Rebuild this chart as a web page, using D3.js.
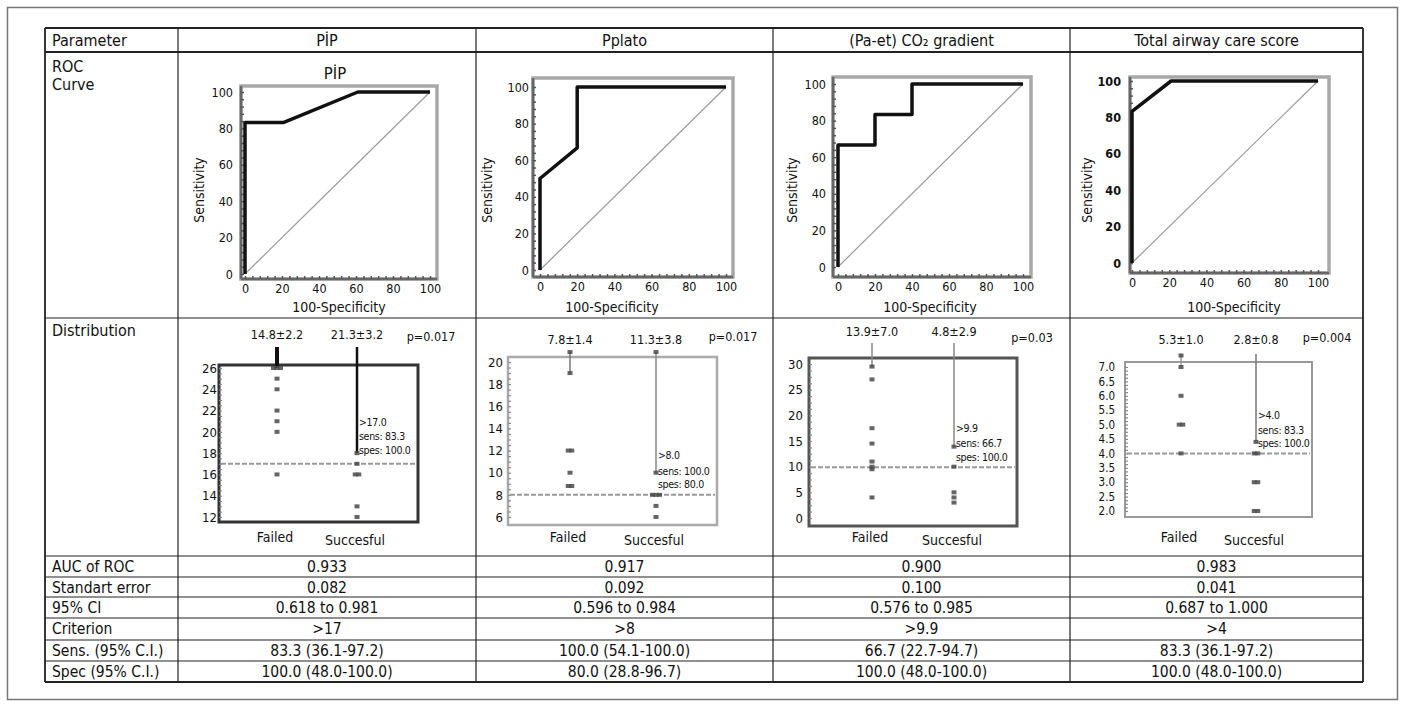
<!DOCTYPE html>
<html>
<head>
<meta charset="utf-8">
<script src="https://cdn.jsdelivr.net/npm/d3@7"></script>
<style>
  body { margin: 0; background: #fff; }
  text { font-family: 'DejaVu Sans Condensed', 'DejaVu Sans', sans-serif; fill: #111; }
  .domain { display: none; }
</style>
</head>
<body>
<svg id="chart" width="1405" height="704"></svg>
<script>
// ---------- table text ----------
const parameters = ["PİP", "Pplato", "(Pa-et) CO₂ gradient", "Total airway care score"];
const rowLabels = ["AUC of ROC", "Standart error", "95% CI", "Criterion", "Sens. (95% C.I.)", "Spec (95% C.I.)"];
const aucValues = ["0.933", "0.917", "0.900", "0.983"];
const stdErrors = ["0.082", "0.092", "0.100", "0.041"];
const ciValues = ["0.618 to 0.981", "0.596 to 0.984", "0.576 to 0.985", "0.687 to 1.000"];
const criteria = [">17", ">8", ">9.9", ">4"];
const sensValues = ["83.3 (36.1-97.2)", "100.0 (54.1-100.0)", "66.7 (22.7-94.7)", "83.3 (36.1-97.2)"];
const specValues = ["100.0 (48.0-100.0)", "80.0 (28.8-96.7)", "100.0 (48.0-100.0)", "100.0 (48.0-100.0)"];

// ---------- ROC curves: [100-specificity, sensitivity] ----------
const rocPip = [[0, 0], [0, 83.3], [21, 83.3], [61, 100], [100, 100]];
const rocPplato = [[0, 0], [0, 50], [20, 66.7], [20, 100], [100, 100]];
const rocCo2 = [[0, 0], [0, 66.7], [20, 66.7], [20, 83.3], [40, 83.3], [40, 100], [100, 100]];
const rocAirway = [[0, 0], [0, 83.3], [21, 100], [100, 100]];
const rocTicks = [0, 20, 40, 60, 80, 100];

// ---------- dot diagrams ----------
const failedPip = [26, 26, 26, 25, 24, 22, 21, 20, 16];
const succPip = [18, 17, 16, 16, 13, 12];
const failedPplato = [20.9, 19, 12, 12, 10, 8.8, 8.8];
const succPplato = [20.9, 10, 8, 8, 8, 7, 6];
const failedCo2 = [29.5, 27, 17.5, 14.5, 11, 10, 9.5, 4];
const succCo2 = [13.9, 10, 5, 4, 3];
const failedAirway = [7.4, 7.0, 6.0, 5.0, 5.0, 4.0];
const succAirway = [4.4, 4.0, 4.0, 3.0, 3.0, 2.0, 2.0];

const distTicksPip = [12, 14, 16, 18, 20, 22, 24, 26];
const distTicksPplato = [6, 8, 10, 12, 14, 16, 18, 20];
const distTicksCo2 = [0, 5, 10, 15, 20, 25, 30];
const distTicksAirway = [2.0, 2.5, 3.0, 3.5, 4.0, 4.5, 5.0, 5.5, 6.0, 6.5, 7.0];

const groupStats = [["14.8±2.2", "21.3±3.2"], ["7.8±1.4", "11.3±3.8"], ["13.9±7.0", "4.8±2.9"], ["5.3±1.0", "2.8±0.8"]];
const pValues = ["p=0.017", "p=0.017", "p=0.03", "p=0.004"];
const cutoffs = [17, 8, 9.9, 4];
const cutoffNotes = [[">17.0", "sens: 83.3", "spes: 100.0"], [">8.0", "sens: 100.0", "spes: 80.0"],
                     [">9.9", "sens: 66.7", "spes: 100.0"], [">4.0", "sens: 83.3", "spes: 100.0"]];
const pointerFailed = [26, 19, 29.5, 7.0];
const pointerSucc = [18, 10, 13.9, 4.4];
const groupNames = ["Failed", "Succesful"];

const FONT = "'DejaVu Sans Condensed','DejaVu Sans',sans-serif";
const svg = d3.select("#chart");

// outer frame
svg.append("rect").attr("x", 7.5).attr("y", 7.5).attr("width", 1390).attr("height", 692)
  .attr("fill", "none").attr("stroke", "#777").attr("stroke-width", 1.5);

// ---------- table grid ----------
const colX = [45, 178, 476, 773, 1070, 1363];
const rowY = [28, 52, 318, 556, 577, 597, 618, 640, 661, 682];
const grid = svg.append("g");
rowY.forEach((y, i) => {
  grid.append("line").attr("x1", colX[0]).attr("x2", colX[5]).attr("y1", y).attr("y2", y)
    .attr("stroke", "#222").attr("stroke-width", (i === 0 || i === 1 || i === rowY.length - 1) ? 1.8 : 1.2);
});
colX.forEach((x, i) => {
  grid.append("line").attr("x1", x).attr("x2", x).attr("y1", rowY[0]).attr("y2", rowY[rowY.length - 1])
    .attr("stroke", "#222").attr("stroke-width", (i === 0 || i === 5) ? 1.8 : 1.2);
});

const colMid = i => (colX[i + 1] + colX[i + 2]) / 2;

// header row
svg.append("text").attr("x", 52).attr("y", 46).attr("font-size", 16).text("Parameter");
parameters.forEach((p, i) => {
  svg.append("text").attr("x", colMid(i)).attr("y", 46).attr("font-size", 16)
    .attr("text-anchor", "middle").text(p);
});
svg.append("text").attr("x", 52).attr("y", 72).attr("font-size", 16).text("ROC");
svg.append("text").attr("x", 52).attr("y", 90).attr("font-size", 16).text("Curve");
svg.append("text").attr("x", 52).attr("y", 336).attr("font-size", 16).text("Distribution");

// bottom rows
const bottomRows = [aucValues, stdErrors, ciValues, criteria, sensValues, specValues];
bottomRows.forEach((vals, r) => {
  const yb = rowY[3 + r] + 16;
  svg.append("text").attr("x", 52).attr("y", yb).attr("font-size", 15.5).text(rowLabels[r]);
  vals.forEach((v, i) => {
    svg.append("text").attr("x", colMid(i)).attr("y", yb).attr("font-size", 15.5)
      .attr("text-anchor", "middle").text(v);
  });
});

// ---------- ROC panels ----------
const rocPanels = [
  { data: rocPip, x0: 245, x1: 430, y0: 274, y1: 92, fx: [241, 437], fy: [86, 279], labR: 233, sensX: 200, specX: 339, bold: false },
  { data: rocPplato, x0: 540, x1: 726, y0: 270, y1: 87, fx: [533, 733], fy: [78, 277], labR: 529, sensX: 488, specX: 612, bold: false },
  { data: rocCo2, x0: 838, x1: 1023, y0: 267, y1: 84, fx: [833, 1031], fy: [77, 277], labR: 826, sensX: 793, specX: 930, bold: false },
  { data: rocAirway, x0: 1132, x1: 1318, y0: 263, y1: 81, fx: [1130, 1329], fy: [77, 273], labR: 1121, sensX: 1088, specX: 1234, bold: true }
];

rocPanels.forEach((p, i) => {
  const g = svg.append("g");
  const x = d3.scaleLinear().domain([0, 100]).range([p.x0, p.x1]);
  const y = d3.scaleLinear().domain([0, 100]).range([p.y0, p.y1]);

  g.append("rect").attr("x", p.fx[0]).attr("y", p.fy[0])
    .attr("width", p.fx[1] - p.fx[0]).attr("height", p.fy[1] - p.fy[0])
    .attr("fill", "none").attr("stroke", "#a8a8a8").attr("stroke-width", 3.5);
  g.append("line").attr("x1", p.fx[0]).attr("x2", p.fx[0]).attr("y1", p.fy[0]).attr("y2", p.fy[1])
    .attr("stroke", "#666").attr("stroke-width", 2.5);
  g.append("line").attr("x1", p.fx[0]).attr("x2", p.fx[1]).attr("y1", p.fy[1]).attr("y2", p.fy[1])
    .attr("stroke", "#666").attr("stroke-width", 2.5);

  // minor ticks
  g.append("g").attr("transform", `translate(${p.fx[0]},0)`)
    .call(d3.axisLeft(y).tickValues(d3.range(0, 101, 4)).tickSize(-3).tickFormat(""))
    .selectAll("line").attr("stroke", "#555").attr("stroke-width", 1.5);
  g.append("g").attr("transform", `translate(0,${p.fy[1]})`)
    .call(d3.axisBottom(x).tickValues(d3.range(0, 101, 4)).tickSize(-3).tickFormat(""))
    .selectAll("line").attr("stroke", "#555").attr("stroke-width", 1.5);

  // labels
  const ya = g.append("g").attr("transform", `translate(${p.fx[0]},0)`)
    .call(d3.axisLeft(y).tickValues(rocTicks).tickSize(0).tickPadding(p.fx[0] - p.labR));
  ya.selectAll("text").attr("font-size", 12.5).attr("font-weight", p.bold ? "bold" : "normal")
    .style("font-family", FONT).attr("fill", "#111");
  const xa = g.append("g").attr("transform", `translate(0,${p.fy[1]})`)
    .call(d3.axisBottom(x).tickValues(rocTicks).tickSize(0).tickPadding(5));
  xa.selectAll("text").attr("font-size", 12.5)
    .style("font-family", FONT).attr("fill", "#111");

  // chance diagonal
  g.append("line").attr("x1", x(0)).attr("y1", y(0)).attr("x2", x(100)).attr("y2", y(100))
    .attr("stroke", "#9a9a9a").attr("stroke-width", 1.2);

  g.append("path").datum(p.data)
    .attr("fill", "none").attr("stroke", "#111").attr("stroke-width", 3.5)
    .attr("stroke-linejoin", "round")
    .attr("d", d3.line().x(d => x(d[0])).y(d => y(d[1])));

  g.append("text").attr("transform", `translate(${p.sensX},190) rotate(-90)`)
    .attr("text-anchor", "middle").attr("dominant-baseline", "middle").attr("font-size", 14).text("Sensitivity");
  g.append("text").attr("x", p.specX).attr("y", 312).attr("text-anchor", "middle")
    .attr("font-size", 14).text("100-Specificity");
});
svg.append("text").attr("x", 335).attr("y", 79).attr("text-anchor", "middle").attr("font-size", 16.5).text(parameters[0]);

// ---------- dot diagrams ----------
const distPanels = [
  { failed: failedPip, succ: succPip, ticks: distTicksPip, fmt: d3.format("d"), range: [517, 368],
    fx: [219, 418], fy: [365, 522], labR: 217, fX: 277, sX: 357, frame: "#333", fw: 3, tickFont: 13,
    statY: 339, pX: 431, pY: 341, ptrTop: 347, ptrStyle: ["#111", 4, "#111", 2.5], noteY: [-31, -17, -3] },
  { failed: failedPplato, succ: succPplato, ticks: distTicksPplato, fmt: d3.format("d"), range: [517, 362],
    fx: [508, 717], fy: [357, 525], labR: 503, fX: 570, sX: 656, frame: "#aaa", fw: 2.5, tickFont: 13,
    statY: 344, pX: 733, pY: 341, ptrTop: 352, ptrStyle: ["#777", 1.5, "#888", 1.5], noteY: [-18, -2, 11] },
  { failed: failedCo2, succ: succCo2, ticks: distTicksCo2, fmt: d3.format("d"), range: [518, 364],
    fx: [809, 1017], fy: [358, 526], labR: 803, fX: 872, sX: 954, frame: "#555", fw: 3, tickFont: 13,
    statY: 336, pX: 1032, pY: 342, ptrTop: 343, ptrStyle: ["#888", 1.5, "#888", 1.5], noteY: [-19, -4, 10] },
  { failed: failedAirway, succ: succAirway, ticks: distTicksAirway, fmt: d3.format(".1f"), range: [511, 367],
    fx: [1125, 1312], fy: [362, 517], labR: 1115, fX: 1181, sX: 1256, frame: "#999", fw: 2, tickFont: 11.5,
    statY: 344, pX: 1327, pY: 342, ptrTop: 354, ptrStyle: ["#999", 1.5, "#777", 1.5], noteY: [-27, -12, 1] }
];

distPanels.forEach((p, i) => {
  const g = svg.append("g");
  const dom = [p.ticks[0], p.ticks[p.ticks.length - 1]];
  const y = d3.scaleLinear().domain(dom).range(p.range);
  const xg = d3.scalePoint().domain(groupNames).range([p.fX, p.sX]);

  g.append("rect").attr("x", p.fx[0]).attr("y", p.fy[0])
    .attr("width", p.fx[1] - p.fx[0]).attr("height", p.fy[1] - p.fy[0])
    .attr("fill", "none").attr("stroke", p.frame).attr("stroke-width", p.fw);

  // minor ticks on left axis
  const step = (p.ticks[1] - p.ticks[0]) / 4;
  g.append("g").attr("transform", `translate(${p.fx[0]},0)`)
    .call(d3.axisLeft(y).tickValues(d3.range(dom[0], dom[1] + step / 2, step)).tickSize(-3).tickFormat(""))
    .selectAll("line").attr("stroke", "#888").attr("stroke-width", 1.2);

  const ya = g.append("g").attr("transform", `translate(${p.fx[0]},0)`)
    .call(d3.axisLeft(y).tickValues(p.ticks).tickFormat(p.fmt).tickSize(0).tickPadding(p.fx[0] - p.labR));
  ya.selectAll("text").attr("font-size", p.tickFont)
    .style("font-family", FONT).attr("fill", "#111");

  // criterion line
  g.append("line").attr("x1", p.fx[0] + 2).attr("x2", p.fx[1] - 2)
    .attr("y1", y(cutoffs[i])).attr("y2", y(cutoffs[i]))
    .attr("stroke", "#999").attr("stroke-width", 2).attr("stroke-dasharray", "5,2");

  // pointer lines from the stats labels
  g.append("line").attr("x1", xg("Failed")).attr("x2", xg("Failed"))
    .attr("y1", p.ptrTop).attr("y2", y(pointerFailed[i]))
    .attr("stroke", p.ptrStyle[0]).attr("stroke-width", p.ptrStyle[1]);
  g.append("line").attr("x1", xg("Succesful")).attr("x2", xg("Succesful"))
    .attr("y1", p.ptrTop).attr("y2", y(pointerSucc[i]))
    .attr("stroke", p.ptrStyle[2]).attr("stroke-width", p.ptrStyle[3]);

  // dots; repeated values sit side by side
  [["Failed", p.failed], ["Succesful", p.succ]].forEach(([grp, vals]) => {
    const counts = d3.rollup(vals, v => v.length, d => d);
    const seen = new Map();
    vals.forEach(v => {
      const k = seen.get(v) || 0; seen.set(v, k + 1);
      const n = counts.get(v);
      const off = (k - (n - 1) / 2) * 3.5;
      g.append("rect").attr("x", xg(grp) + off - 2.5).attr("y", y(v) - 2)
        .attr("width", 5).attr("height", 4).attr("fill", "#4a4a4a").attr("opacity", 0.85);
    });
  });

  // stats labels
  groupStats[i].forEach((s, k) => {
    g.append("text").attr("x", xg(groupNames[k])).attr("y", p.statY).attr("text-anchor", "middle")
      .attr("font-size", 12.5).text(s);
  });
  g.append("text").attr("x", p.pX).attr("y", p.pY).attr("text-anchor", "middle")
    .attr("font-size", 12.5).text(pValues[i]);

  // cutoff note
  cutoffNotes[i].forEach((t, k) => {
    g.append("text").attr("x", xg("Succesful") + 2).attr("y", y(pointerSucc[i]) + p.noteY[k] + 4)
      .attr("font-size", 10.5).attr("letter-spacing", -0.3).text(t);
  });

  // group names
  g.append("text").attr("x", xg("Failed") - 2).attr("y", 542).attr("text-anchor", "middle")
    .attr("font-size", 14).text("Failed");
  g.append("text").attr("x", xg("Succesful") - 2).attr("y", 545).attr("text-anchor", "middle")
    .attr("font-size", 14).text("Succesful");
});
</script>
</body>
</html>
